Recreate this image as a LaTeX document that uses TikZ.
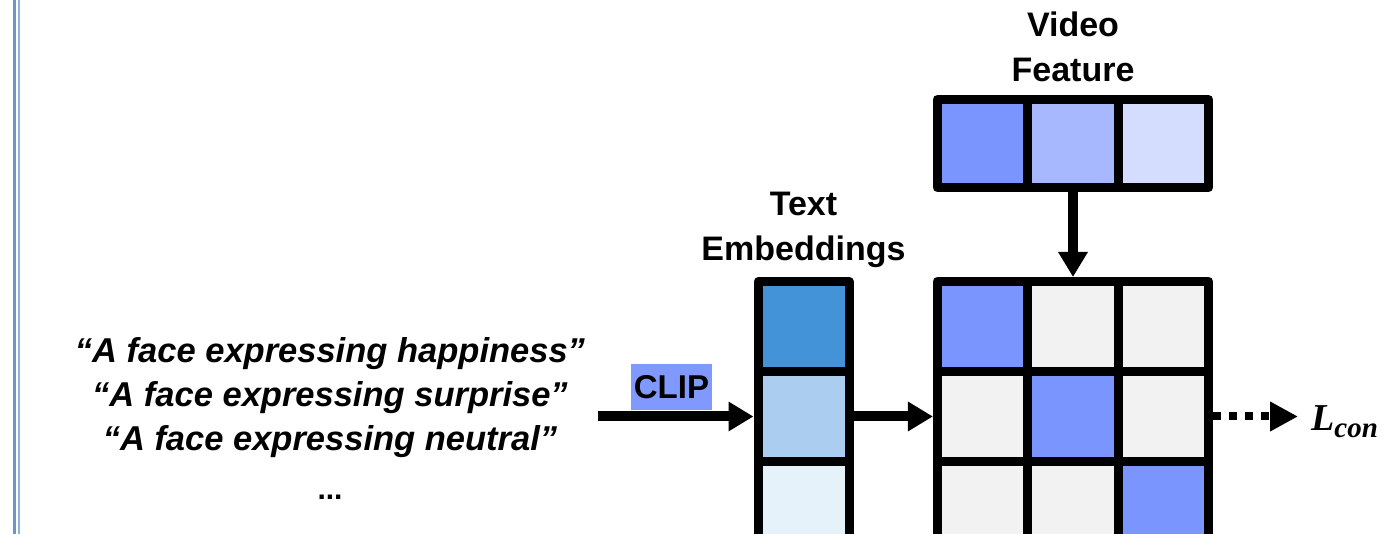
\documentclass[tikz,border=0pt]{standalone}
\usepackage{fontspec}
\setmainfont{Liberation Sans}
\newfontfamily\serifb{Liberation Serif}
\usetikzlibrary{arrows.meta}
\definecolor{diag}{HTML}{7B95FF}
\definecolor{vf2}{HTML}{A8B8FF}
\definecolor{vf3}{HTML}{D5DDFF}
\definecolor{offd}{HTML}{F2F2F2}
\definecolor{te1}{HTML}{4393D8}
\definecolor{te2}{HTML}{ABCDEF}
\definecolor{te3}{HTML}{E6F2FA}
\definecolor{clipbg}{HTML}{8099FF}
\definecolor{rule1}{HTML}{6F95C8}
\definecolor{rule2}{HTML}{8AB2E2}
\tikzset{
  cellbox/.style={draw=black, line width=9pt, minimum width=90.5pt, minimum height=90pt, inner sep=0pt, line join=round},
  arr/.style={line width=10pt, -{Triangle[length=25pt,width=28pt]}},
  title/.style={font=\fontsize{34}{45}\selectfont\bfseries, align=center},
  prompt/.style={font=\fontsize{34.5}{44}\selectfont\bfseries\itshape, align=center}
}
\begin{document}
\begin{tikzpicture}[x=1pt,y=-1pt]
\useasboundingbox (0,0) rectangle (1385,534);
\clip (0,0) rectangle (1385,534);
% left rules
\draw[rule1, line width=2.4pt] (14.5,0) -- (14.5,534);
\draw[rule2, line width=2.4pt] (19,0) -- (19,534);
% text embeddings
\node[cellbox, fill=te1, minimum width=91pt] (t1) at (803.5,326.5) {};
\node[cellbox, fill=te2, minimum width=91pt] (t2) at (803.5,416.5) {};
\node[cellbox, fill=te3, minimum width=91pt] (t3) at (803.5,506.5) {};
\node[title] (tetitle) at (803.5,230) {Text\\Embeddings};
% video feature
\node[cellbox, fill=diag, minimum height=88pt] (v1) at (982.7,143.5) {};
\node[cellbox, fill=vf2, minimum height=88pt] (v2) at (1073,143.5) {};
\node[cellbox, fill=vf3, minimum height=88pt] (v3) at (1163.4,143.5) {};
\node[title] (vftitle) at (1073,47) {Video\\Feature};
% matrix
\node[cellbox, fill=diag] (m11) at (982.7,326.5) {};
\node[cellbox, fill=offd] (m12) at (1073,326.5) {};
\node[cellbox, fill=offd] (m13) at (1163.4,326.5) {};
\node[cellbox, fill=offd] (m21) at (982.7,416.5) {};
\node[cellbox, fill=diag] (m22) at (1073,416.5) {};
\node[cellbox, fill=offd] (m23) at (1163.4,416.5) {};
\node[cellbox, fill=offd] (m31) at (982.7,506.5) {};
\node[cellbox, fill=offd] (m32) at (1073,506.5) {};
\node[cellbox, fill=diag] (m33) at (1163.4,506.5) {};
% prompts
\node[prompt] (p) at (330,398) {“A face expressing happiness”\\“A face expressing surprise”\\“A face expressing neutral”};
\node[font=\fontsize{30}{30}\selectfont\bfseries] (dots) at (330,497) {...};
% CLIP
\node[fill=clipbg, font=\fontsize{33}{33}\selectfont\bfseries, inner sep=2pt, minimum width=81pt, minimum height=46pt] (clip) at (671.5,387) {CLIP};
\coordinate (s) at (598,416.5);
\coordinate (e) at (1298,416.5);
\draw[arr] (s) -- (t2.west);
\draw[arr] (t2.east) -- (m21.west);
\draw[arr] (v2.south) -- (m12.north);
\draw[line width=8pt, dash pattern=on 8pt off 8pt, -{Triangle[length=28pt,width=28pt]}] (m23.east) -- (e);
\node[anchor=base west, inner sep=0pt] (l) at (1311,431) {\serifb\bfseries\itshape\fontsize{38}{38}\selectfont L\raisebox{-7pt}{\fontsize{29}{29}\selectfont con}};
\end{tikzpicture}
\end{document}
